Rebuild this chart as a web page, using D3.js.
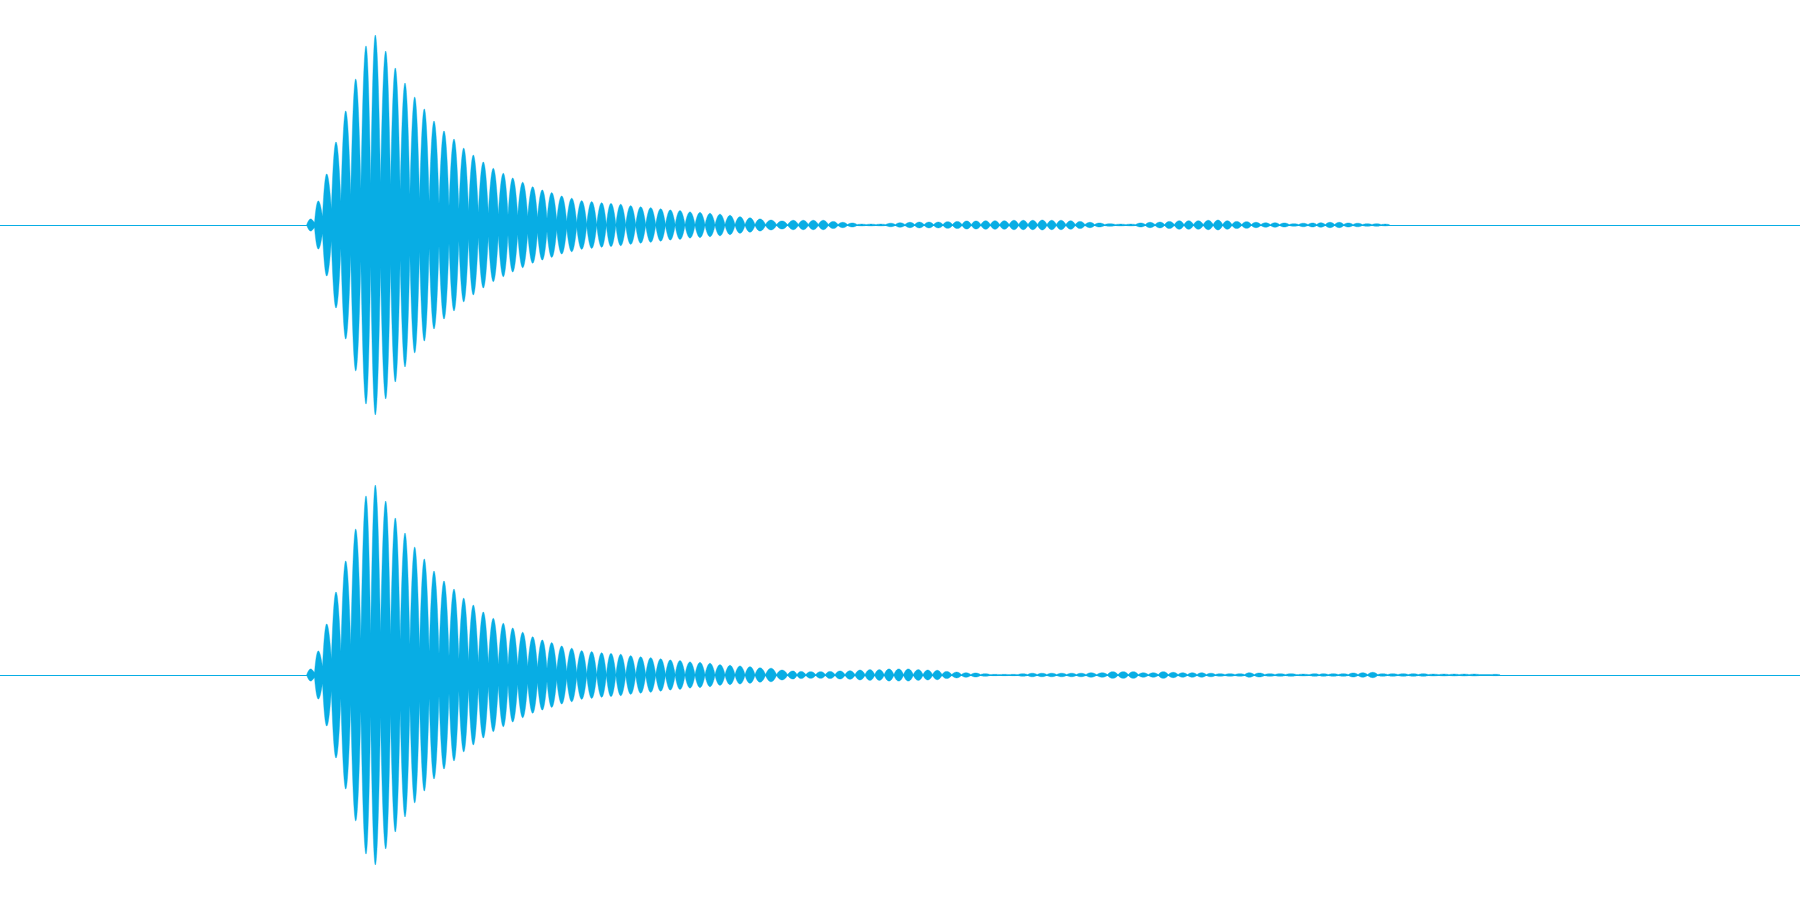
<!DOCTYPE html>
<html><head><meta charset="utf-8">
<script src="https://cdn.jsdelivr.net/npm/d3@7"></script>
<style>html,body{margin:0;padding:0;background:#fff;overflow:hidden}</style>
</head><body><svg id="chart" width="1800" height="900"></svg>
<script>
// Time axis in ms (whole clip = 1800 ms), amplitude in % of full scale.
const durationMs = 1800;
const channelNames = ["Left", "Right"];

const leftTimes = [310.7,318.3,326.7,336,345.7,355.7,366,375.3,385.7,395.3,405,414.7,424.3,434,444,454,463.7,473.3,483.3,
  493.3,503.3,512.7,522.7,532.7,542.3,551.7,561.7,571.7,581.7,591.7,601.7,611,620.7,630.7,640.7,650.7,660.7,670.3,680,690,700,710,720,730,740,750,760,771,782,
  793.3,803.3,813.3,823.3,833.3,842.7,852.3,861.7,871,880.7,890.7,900,910,919.3,929,938.3,947.7,957.3,966.7,976,985.7,995,1004.3,1014,1023.3,1032.7,1042.3,1051.7,1061,1070.7,1080,
  1090,1099.3,1110,1120.7,1130.7,1140.7,1150,1160,1169.3,1179.3,1188.7,1198.3,1208.3,1218,1227.3,1236.7,1246.7,1256,1265.7,1275,1284.3,1294,1303.3,1312.7,1320.7,1330,1339.3,1348.3,1357.7,1367.3,1376.7,1385.3];
const leftPeaks = [2.7,10.7,22.7,36.9,50.7,64.9,79.6,84.4,77.3,69.8,63.1,56.9,51.6,46.2,41.8,38.2,34.2,31.1,28.0,
  25.2,23.0,20.9,19.0,17.0,15.6,14.4,12.9,11.9,10.8,10.4,9.9,9.6,9.2,8.6,8.1,7.7,7.2,6.7,6.4,5.8,5.6,5.2,4.8,4.3,3.7,3.2,2.7,2.2,1.8,
  2.1,2.1,2.1,2.1,1.6,1.2,0.9,0.4,0.4,0.4,0.8,1.0,1.2,1.3,1.3,1.3,1.5,1.6,1.8,1.8,1.9,1.9,1.9,2.1,2.1,2.1,2.2,2.1,2.1,1.9,1.6,
  1.2,0.9,0.6,0.4,0.4,0.9,1.2,1.3,1.6,1.9,1.9,1.9,2.1,2.2,1.9,1.6,1.5,1.2,1.0,1.0,0.9,0.6,0.8,0.9,1.0,1.2,1.2,0.9,0.8,0.6,0.6,0.4];
const leftFloors = [0,2.2,5.3,8.9,12.0,14.7,17.8,19.1,18.7,16.9,14.7,12.4,11.1,9.8,8.9,7.6,6.7,5.8,5.3,4.9,4.4,4.4,4.0,3.6,3.1,2.7,1.8,1.3,0.7];

const rightTimes = [310.7,318.3,326.7,336,345.7,355.7,366,375.3,385.7,395.3,405,414.7,424.3,434,444,454,463.7,473.3,483.3,
  493.3,503.3,512.7,522.7,532.7,542.3,551.7,561.7,571.7,581.7,591.7,601.7,611,620.7,630.7,640.7,650.7,660.7,670.3,680,690,700,710,720,730,740,750,760,771,782,
  793,801,810.7,820.7,830,840,850,860,870,879.3,889,898.7,908.3,918.3,927.7,937.3,946.7,956.7,966,975.7,985.3,994.7,1004.3,1013.3,1022.7,1032.3,1042,1051.7,1061.7,1071.7,1081,
  1091,1102.3,1112.7,1123.3,1133.3,1143.3,1153.3,1163.3,1173.3,1182.7,1192.3,1201.7,1211,1220,1230,1240,1249.3,1259.3,1270,1280,1291,1303.3,1315,1323.3,1333.3,1343.3,1353.3,1362.7,1372.7,1382.7,1392.7,1403.3,1413.3,1423.3,1433.3,1444,1454.3,1464.3,1474.3,1495.7];
const rightPeaks = [2.7,10.7,22.7,36.9,50.7,64.9,79.6,84.4,77.3,69.8,63.1,56.9,51.6,46.2,41.8,38.2,34.2,31.1,28.0,
  25.2,23.0,20.9,19.0,17.0,15.6,14.4,12.9,11.9,10.8,10.4,9.9,9.6,9.2,8.6,8.1,7.7,7.2,6.7,6.4,5.8,5.6,5.2,4.6,4.3,4.0,3.7,3.2,3.0,2.2,
  1.8,1.6,1.5,1.5,1.6,1.8,1.9,2.2,2.4,2.4,2.7,2.7,2.7,2.4,2.2,2.1,1.6,1.3,1.0,0.9,0.6,0.3,0.3,0.3,0.6,0.8,0.8,0.8,0.8,0.8,0.8,
  1.0,1.0,1.5,1.5,1.5,1.0,1.0,1.5,1.2,1.0,1.0,1.0,0.8,0.6,0.6,0.6,1.0,0.9,0.6,0.6,0.6,0.4,0.6,0.6,0.6,0.6,0.9,1.0,1.2,0.6,0.6,0.6,0.6,0.6,0.4,0.4,0.4,0.4,0.4,0.3];
const rightFloors = [0,2.2,5.3,8.9,12.0,14.7,17.8,19.1,18.7,16.9,14.7,12.4,11.1,9.8,8.9,7.6,6.7,5.8,5.3,4.9,4.4,4.4,4.0,3.6,3.1,2.7,1.8,1.3,0.7];

const waveColor = "#08ade4";
const baseLevel = 0.2;

const W = 1800, H = 900, chH = H / 2;
const svg = d3.select("#chart");
const x = d3.scaleLinear().domain([0, durationMs]).range([0, W]);
const y = d3.scaleLinear().domain([-100, 100]).range([chH, 0]);

// Each lobe drawn with a rounded profile rising from its floor to its peak.
function lobePoints(times, peaks, floors) {
  const fl = i => (i >= 0 && i < floors.length) ? floors[i] : baseLevel;
  const pts = [];
  times.forEach((t, i) => {
    const prev = i > 0 ? times[i - 1] : t - 8;
    const next = i < times.length - 1 ? times[i + 1] : t + 8;
    const hl = Math.min((t - prev) / 2, 5.5), hr = Math.min((next - t) / 2, 5.5);
    const f = fl(i);
    const fL = (f + fl(i - 1)) / 2, fR = (f + fl(i + 1)) / 2;
    const a = peaks[i];
    for (let k = -24; k <= 24; k++) {
      const u = k / 24;
      const dt = u < 0 ? u * hl : u * hr;
      const fu = u < 0 ? f + (fL - f) * (-u) : f + (fR - f) * u;
      const p = Math.max(0, 1 - u * u);
      const v = fu + (a - fu) * p;
      pts.push({ t: t + dt, v: Math.max(v, baseLevel) });
    }
  });
  return pts;
}

const channels = [
  { name: channelNames[0], times: leftTimes, peaks: leftPeaks, floors: leftFloors },
  { name: channelNames[1], times: rightTimes, peaks: rightPeaks, floors: rightFloors }
];

const area = d3.area()
  .x(d => x(d.t))
  .y0(d => y(-d.v))
  .y1(d => y(d.v));

channels.forEach((ch, ci) => {
  const g = svg.append("g").attr("transform", `translate(0,${ci * chH})`);
  g.append("line")
    .attr("x1", x(0)).attr("x2", x(durationMs))
    .attr("y1", y(0) + 0.5).attr("y2", y(0) + 0.5)
    .attr("stroke", waveColor).attr("stroke-width", 1);
  g.append("path")
    .datum(lobePoints(ch.times, ch.peaks, ch.floors))
    .attr("d", area)
    .attr("fill", waveColor)
    .attr("stroke", waveColor)
    .attr("stroke-width", 0.4)
    .attr("stroke-linejoin", "round");
});
</script></body></html>
